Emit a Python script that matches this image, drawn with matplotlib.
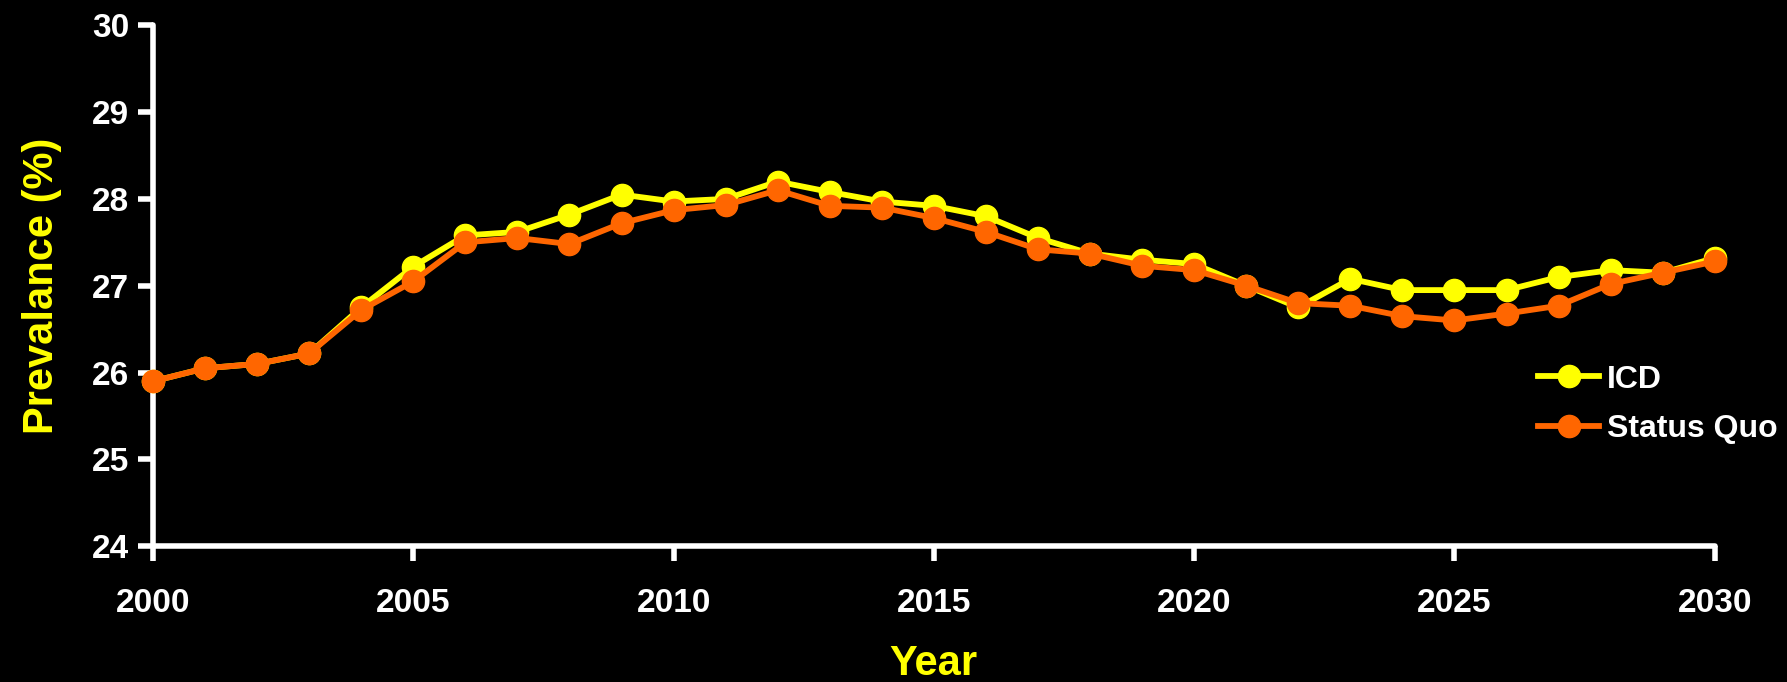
import matplotlib
matplotlib.use('Agg')
import matplotlib.pyplot as plt
import numpy as np

years = np.arange(2000, 2031)

icd = [25.90, 26.05, 26.10, 26.22, 26.75, 27.22, 27.58, 27.62, 27.82, 28.05,
       27.97, 28.00, 28.20, 28.08, 27.97, 27.92, 27.80, 27.55, 27.37, 27.30,
       27.25, 27.00, 26.75, 27.08, 26.95, 26.95, 26.95, 27.10, 27.18, 27.15,
       27.32]

status_quo = [25.90, 26.05, 26.10, 26.22, 26.72, 27.05, 27.50, 27.55, 27.48, 27.72,
              27.87, 27.93, 28.10, 27.92, 27.90, 27.78, 27.62, 27.42, 27.37, 27.23,
              27.18, 27.00, 26.80, 26.77, 26.65, 26.60, 26.68, 26.77, 27.02, 27.15,
              27.28]

yellow = '#FFFF00'
orange = '#FF6600'

plt.rcParams['font.family'] = ['Liberation Sans', 'DejaVu Sans']
plt.rcParams['font.weight'] = 'bold'

fig = plt.figure(figsize=(17.87, 6.82), dpi=100, facecolor='black')
ax = fig.add_axes([0.0856, 0.199, 0.874, 0.764], facecolor='black')

ax.plot(years, icd, color=yellow, lw=4.2, marker='o', ms=16,
        mec=yellow, label='ICD', clip_on=False, zorder=3)
ax.plot(years, status_quo, color=orange, lw=4.2, marker='o', ms=16,
        mec=orange, label='Status Quo', clip_on=False, zorder=4)

ax.set_xlim(2000, 2030)
ax.set_ylim(24, 30)
ax.set_xticks(np.arange(2000, 2031, 5))
ax.set_yticks(np.arange(24, 31, 1))

for side in ['top', 'right']:
    ax.spines[side].set_visible(False)
for side in ['left', 'bottom']:
    ax.spines[side].set_color('white')
    ax.spines[side].set_linewidth(4)
    ax.spines[side].set_capstyle('round')

ax.tick_params(axis='both', colors='white', width=4, length=11,
               direction='out', labelsize=24)
ax.tick_params(axis='x', pad=19)
ax.tick_params(axis='y', pad=6)
for lbl in ax.get_xticklabels() + ax.get_yticklabels():
    lbl.set_fontweight('bold')
for t in ax.xaxis.get_ticklines() + ax.yaxis.get_ticklines():
    t.set_solid_capstyle('round')

ax.set_xlabel('Year', color=yellow, fontsize=30, fontweight='bold', labelpad=18)
ax.set_ylabel('Prevalance (%)', color=yellow, fontsize=30, fontweight='bold', labelpad=22)

leg = ax.legend(loc='center left', bbox_to_anchor=(0.887, 0.272), frameon=False,
                fontsize=23, handlelength=1.9, handletextpad=0.25,
                labelspacing=0.62, borderaxespad=0, borderpad=0)
for txt in leg.get_texts():
    txt.set_color('white')
    txt.set_fontweight('bold')

fig.savefig('out.png', dpi=100, facecolor='black')
